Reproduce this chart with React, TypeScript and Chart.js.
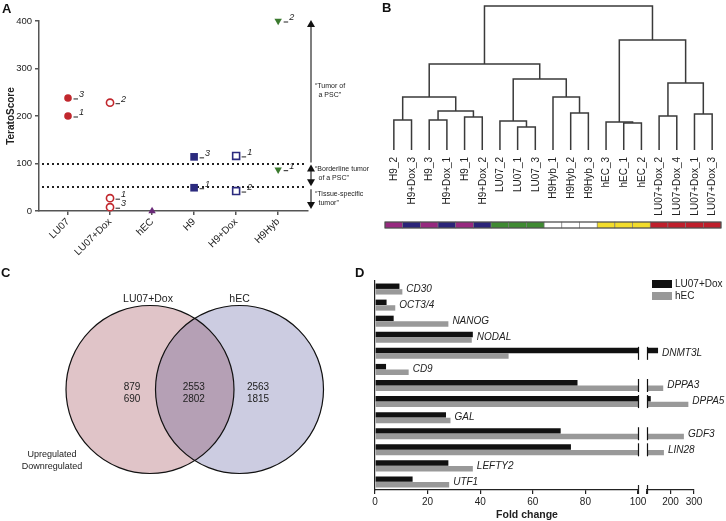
import React, { useEffect, useRef } from 'react';
import { Chart, registerables } from 'chart.js';

Chart.register(...registerables);

const FONT = "'Liberation Sans', Arial, Helvetica, sans-serif";
Chart.defaults.font.family = FONT;
Chart.defaults.color = '#222';
const TEXT = '#222';

// ---------------- Panel A data ----------------
const A_CELL_LINES = ['LU07', 'LU07+Dox', 'hEC', 'H9', 'H9+Dox', 'H9Hyb'];
const A_SCORES = [[200, 238], [228, 27, 8], [0], [49, 114], [116, 42], [87, 400]];
const A_REPLICATES = [['1', '3'], ['2', '1', '3'], [''], ['1', '3'], ['1', '2'], ['1', '2']];
const A_Y_TICKS = [0, 100, 200, 300, 400];
const A_THRESHOLDS = [100, 50];
const A_ZONE_TEXT = [
  ['\u201CTumor of', 'a PSC\u201D'],
  ['\u201CBorderline tumor', 'of a PSC\u201D'],
  ['\u201CTissue-specific', 'tumor\u201D'],
];
const A_ZONE_AT = [254, 79, 26];

// ---------------- Panel B data ----------------
const B_LEAVES = ['H9_2', 'H9+Dox_3', 'H9_3', 'H9+Dox_1', 'H9_1', 'H9+Dox_2', 'LU07_2', 'LU07_1', 'LU07_3',
  'H9Hyb_1', 'H9Hyb_2', 'H9Hyb_3', 'hEC_3', 'hEC_1', 'hEC_2', 'LU07+Dox_2', 'LU07+Dox_4', 'LU07+Dox_1', 'LU07+Dox_3'];
const B_LEAF_GROUPS = ['H9', 'H9+Dox', 'H9', 'H9+Dox', 'H9', 'H9+Dox', 'LU07', 'LU07', 'LU07',
  'H9Hyb', 'H9Hyb', 'H9Hyb', 'hEC', 'hEC', 'hEC', 'LU07+Dox', 'LU07+Dox', 'LU07+Dox', 'LU07+Dox'];
// linkage: [left node, right node, merge height]; nodes >= 19 are earlier merges
const B_MERGE_LEFT = [7, 13, 12, 6, 0, 2, 4, 15, 17, 10, 24, 23, 9, 26, 22, 30, 21, 34];
const B_MERGE_RIGHT = [8, 14, 20, 19, 1, 3, 5, 16, 18, 11, 25, 29, 28, 27, 31, 33, 32, 35];
const B_MERGE_HEIGHT = [23, 27, 28, 29, 30, 30, 33, 34, 36, 37, 39, 53, 53, 67, 71, 86, 110, 144];

// ---------------- Panel C data ----------------
const C_SETS = ['LU07+Dox', 'hEC'];
const C_UP = [879, 2553, 2563];
const C_DOWN = [690, 2802, 1815];
const C_KEY = ['Upregulated', 'Downregulated'];

// ---------------- Panel D data ----------------
const D_GENES = ['CD30', 'OCT3/4', 'NANOG', 'NODAL', 'DNMT3L', 'CD9', 'DPPA3', 'DPPA5', 'GAL', 'GDF3', 'LIN28', 'LEFTY2', 'UTF1'];
const D_SERIES = ['LU07+Dox', 'hEC'];
const D_LU07_DOX = [9.3, 4.4, 7.1, 37.2, 147, 4.2, 77, 116, 27, 70.6, 74.5, 27.9, 14.3];
const D_HEC = [10.4, 7.7, 27.9, 36.8, 50.8, 12.8, 169, 276, 28.7, 257, 172, 37.2, 28.2];
const D_BREAK = 100;
const D_LOW_STEP = 20;
const D_HIGH_MAX = 300;
const D_HIGH_STEP = 100;

// ---------------- styles ----------------
const A_MARKERS = [
  { style: 'circle', rot: 0, color: '#c1272d', filled: true, r: 3.8 },
  { style: 'circle', rot: 0, color: '#c1272d', filled: false, r: 3.6 },
  { style: 'triangle', rot: 0, color: '#6a2a78', filled: true, r: 4.3 },
  { style: 'rect', rot: 0, color: '#2b2a7e', filled: true, r: 5.4 },
  { style: 'rect', rot: 0, color: '#2b2a7e', filled: false, r: 4.9 },
  { style: 'triangle', rot: 180, color: '#3b7a2e', filled: true, r: 4.3 },
];
const B_GROUP_COLORS: Record<string, string> = {
  H9: '#97297f', 'H9+Dox': '#2b2478', LU07: '#3f8a32', H9Hyb: '#ffffff', hEC: '#f2dc2b', 'LU07+Dox': '#bf1f2c',
};
const D_COLORS = ['#111111', '#999999'];

const baseOptions = (extra: any) => ({
  responsive: false,
  animation: false,
  devicePixelRatio: 1,
  events: [],
  plugins: { legend: { display: false }, tooltip: { enabled: false } },
  ...extra,
});

function letter(ctx: CanvasRenderingContext2D, t: string, x: number, y: number) {
  ctx.save();
  ctx.font = `bold 13px ${FONT}`;
  ctx.fillStyle = '#111';
  ctx.textAlign = 'left';
  ctx.textBaseline = 'alphabetic';
  ctx.fillText(t, x, y);
  ctx.restore();
}

// ---------------- Panel A config ----------------
function makeA() {
  const plugin = {
    id: 'panelA',
    beforeDatasetsDraw(chart: any) {
      const { ctx, chartArea: ca, scales: { y } } = chart;
      ctx.save();
      ctx.strokeStyle = '#222';
      ctx.lineWidth = 2;
      ctx.setLineDash([2, 3]);
      A_THRESHOLDS.forEach((t) => {
        const py = Math.round(y.getPixelForValue(t));
        ctx.beginPath();
        ctx.moveTo(ca.left + 3, py);
        ctx.lineTo(ca.right - 2, py);
        ctx.stroke();
      });
      ctx.restore();
    },
    afterDatasetsDraw(chart: any) {
      const { ctx } = chart;
      ctx.save();
      ctx.fillStyle = TEXT;
      ctx.font = `italic 9px ${FONT}`;
      ctx.textAlign = 'left';
      ctx.textBaseline = 'alphabetic';
      chart.data.datasets.forEach((_: any, i: number) => {
        const meta = chart.getDatasetMeta(i);
        meta.data.forEach((pt: any, j: number) => {
          const lab = A_REPLICATES[i][j];
          if (!lab) return;
          const x = pt.x + 5.5;
          ctx.fillRect(x, pt.y + 0.5, 4.5, 1);
          ctx.fillText(lab, x + 5.5, pt.y - 1);
        });
      });
      ctx.restore();
    },
    afterDraw(chart: any) {
      const { ctx, chartArea: ca, scales: { y } } = chart;
      const ax = ca.right + 3;
      const yTop = y.getPixelForValue(A_Y_TICKS[A_Y_TICKS.length - 1]);
      const y100 = y.getPixelForValue(A_THRESHOLDS[0]);
      const y50 = y.getPixelForValue(A_THRESHOLDS[1]);
      const y0 = y.getPixelForValue(A_Y_TICKS[0]);
      ctx.save();
      ctx.strokeStyle = '#555';
      ctx.lineWidth = 1.5;
      const line = (a: number, b: number) => {
        ctx.beginPath();
        ctx.moveTo(ax, a);
        ctx.lineTo(ax, b);
        ctx.stroke();
      };
      ctx.fillStyle = '#111';
      const head = (tip: number, dir: number) => {
        ctx.beginPath();
        ctx.moveTo(ax, tip);
        ctx.lineTo(ax - 4, tip - dir * 7);
        ctx.lineTo(ax + 4, tip - dir * 7);
        ctx.closePath();
        ctx.fill();
      };
      line(yTop + 4, y100 - 1);
      head(yTop - 1, -1);
      line(y100 + 6, y50 - 6);
      head(y100 + 1, -1);
      head(y50 - 1, 1);
      line(y50 + 2, y0 - 6);
      head(y0 - 2, 1);

      ctx.font = `7px ${FONT}`;
      ctx.fillStyle = TEXT;
      ctx.textBaseline = 'middle';
      ctx.textAlign = 'left';
      A_ZONE_TEXT.forEach((lines, k) => {
        const cy = y.getPixelForValue(A_ZONE_AT[k]);
        ctx.fillText(lines[0], ax + 4, cy - 4.5);
        ctx.fillText(lines[1], ax + 7.5, cy + 4.5);
      });
      ctx.restore();
      letter(ctx, 'A', 2, 13);
    },
  };
  return {
    type: 'scatter',
    data: {
      datasets: A_CELL_LINES.map((name, i) => {
        const m = A_MARKERS[i];
        return {
          label: name,
          data: A_SCORES[i].map((v) => ({ x: i, y: v })),
          pointStyle: m.style,
          pointRotation: m.rot,
          pointRadius: m.r,
          pointBackgroundColor: m.filled ? m.color : '#ffffff',
          pointBorderColor: m.color,
          pointBorderWidth: m.filled ? 0 : 1.6,
          showLine: false,
          clip: false,
        };
      }),
    },
    options: baseOptions({
      layout: { padding: { left: 0, top: 21, right: 72, bottom: 0 } },
      scales: {
        x: {
          type: 'linear',
          min: -0.69,
          max: A_CELL_LINES.length - 0.29,
          afterBuildTicks: (s: any) => {
            s.ticks = A_CELL_LINES.map((_, i) => ({ value: i }));
          },
          afterFit: (s: any) => {
            s.height = 54;
          },
          ticks: {
            autoSkip: false,
            minRotation: 45,
            maxRotation: 45,
            padding: 1,
            font: { size: 10 },
            color: TEXT,
            callback: (v: any) => A_CELL_LINES[v] ?? '',
          },
          grid: { drawOnChartArea: false, tickLength: 4, color: '#555', lineWidth: 1.5 },
          border: { color: '#555', width: 1.5 },
        },
        y: {
          min: A_Y_TICKS[0],
          max: A_Y_TICKS[A_Y_TICKS.length - 1],
          afterBuildTicks: (s: any) => {
            s.ticks = A_Y_TICKS.map((v) => ({ value: v }));
          },
          afterFit: (s: any) => {
            s.width = 39;
          },
          ticks: { font: { size: 9.5 }, color: TEXT, padding: 3 },
          title: { display: true, text: 'TeratoScore', font: { size: 10, weight: 'bold' }, color: TEXT, padding: { top: 5, bottom: 0 } },
          grid: { drawOnChartArea: false, tickLength: 4, color: '#555', lineWidth: 1.5 },
          border: { color: '#555', width: 1.5 },
        },
      },
    }),
    plugins: [plugin],
  };
}

// ---------------- Panel B config ----------------
function makeB() {
  const nodeX: number[] = B_LEAVES.map((_, i) => i);
  const nodeH: number[] = B_LEAVES.map(() => 0);
  const segments: any[] = [];
  B_MERGE_HEIGHT.forEach((h, k) => {
    const a = B_MERGE_LEFT[k];
    const b = B_MERGE_RIGHT[k];
    segments.push([
      { x: nodeX[a], y: nodeH[a] },
      { x: nodeX[a], y: h },
      { x: nodeX[b], y: h },
      { x: nodeX[b], y: nodeH[b] },
    ]);
    nodeX.push((nodeX[a] + nodeX[b]) / 2);
    nodeH.push(h);
  });
  const plugin = {
    id: 'panelB',
    afterDraw(chart: any) {
      const { ctx, chartArea: ca, scales: { x } } = chart;
      ctx.save();
      ctx.font = `10px ${FONT}`;
      ctx.fillStyle = TEXT;
      ctx.textAlign = 'right';
      ctx.textBaseline = 'middle';
      B_LEAVES.forEach((lab, i) => {
        const px = x.getPixelForValue(i);
        ctx.save();
        ctx.translate(px + 0.5, ca.bottom + 7);
        ctx.rotate(-Math.PI / 2);
        ctx.fillText(lab, 0, 0);
        ctx.restore();
      });
      const top = ca.bottom + 72;
      const hgt = 6;
      B_LEAVES.forEach((_, i) => {
        const l = x.getPixelForValue(i - 0.5);
        const r = x.getPixelForValue(i + 0.5);
        ctx.fillStyle = B_GROUP_COLORS[B_LEAF_GROUPS[i]];
        ctx.fillRect(l, top, r - l, hgt);
        ctx.strokeStyle = '#777';
        ctx.lineWidth = 0.6;
        ctx.strokeRect(l, top, r - l, hgt);
      });
      ctx.strokeStyle = '#444';
      ctx.lineWidth = 1;
      ctx.strokeRect(x.getPixelForValue(-0.5), top, x.getPixelForValue(B_LEAVES.length - 0.5) - x.getPixelForValue(-0.5), hgt);
      ctx.restore();
      letter(ctx, 'B', 22, 12);
    },
  };
  return {
    type: 'scatter',
    data: {
      datasets: segments.map((seg) => ({
        data: seg,
        showLine: true,
        borderColor: '#3a3a3a',
        borderWidth: 1.5,
        pointRadius: 0,
        tension: 0,
        clip: false,
      })),
    },
    options: baseOptions({
      layout: { autoPadding: false, padding: { left: 25, right: 5, top: 6, bottom: 115 } },
      scales: {
        x: { display: false, type: 'linear', min: -0.5, max: B_LEAVES.length - 0.5 },
        y: { display: false, min: 0, max: B_MERGE_HEIGHT[B_MERGE_HEIGHT.length - 1] },
      },
    }),
    plugins: [plugin],
  };
}

// ---------------- Panel C config ----------------
function makeC(w: number, h: number) {
  const R = 84;
  const cy = 127.5;
  const cxs = [150, 239.5];
  const plugin = {
    id: 'panelC',
    afterDatasetsDraw(chart: any) {
      const { ctx } = chart;
      const els = [0, 1].map((i) => chart.getDatasetMeta(i).data[0]);
      const rad = (el: any) => el.options.radius;
      ctx.save();
      ctx.beginPath();
      ctx.arc(els[0].x, els[0].y, rad(els[0]), 0, Math.PI * 2);
      ctx.clip();
      ctx.beginPath();
      ctx.arc(els[1].x, els[1].y, rad(els[1]), 0, Math.PI * 2);
      ctx.fillStyle = '#b5a0b5';
      ctx.fill();
      ctx.restore();
      ctx.save();
      ctx.strokeStyle = '#111';
      ctx.lineWidth = 1.2;
      els.forEach((el) => {
        ctx.beginPath();
        ctx.arc(el.x, el.y, rad(el), 0, Math.PI * 2);
        ctx.stroke();
      });
      ctx.fillStyle = TEXT;
      ctx.textAlign = 'center';
      ctx.textBaseline = 'middle';
      ctx.font = `10.5px ${FONT}`;
      C_SETS.forEach((s, i) => {
        ctx.fillText(s, els[i].x - (i === 0 ? 2 : 0), els[i].y - rad(els[i]) - 6.5);
      });
      const mid = (els[0].x + els[1].x) / 2;
      const xs = [els[0].x - 18, mid - 1, els[1].x + 18.5];
      ctx.font = `10px ${FONT}`;
      xs.forEach((px, k) => {
        ctx.fillText(String(C_UP[k]), px, els[0].y - 1.8);
        ctx.fillText(String(C_DOWN[k]), px, els[0].y + 9.8);
      });
      ctx.font = `9px ${FONT}`;
      ctx.fillText(C_KEY[0], 52, 193);
      ctx.fillText(C_KEY[1], 52, 205);
      ctx.restore();
      letter(ctx, 'C', 1, 15);
    },
  };
  return {
    type: 'bubble',
    data: {
      datasets: C_SETS.map((s, i) => ({
        label: s,
        data: [{ x: cxs[i], y: cy, r: R }],
        backgroundColor: i === 0 ? '#e0c4c8' : '#cccce1',
        borderWidth: 0,
        clip: false,
      })),
    },
    options: baseOptions({
      layout: { autoPadding: false, padding: 0 },
      scales: {
        x: { display: false, type: 'linear', min: 0, max: w },
        y: { display: false, type: 'linear', min: 0, max: h, reverse: true },
      },
    }),
    plugins: [plugin],
  };
}

// ---------------- Panel D config ----------------
function makeD(high: boolean) {
  const series = [D_LU07_DOX, D_HEC];
  const plugin = {
    id: high ? 'panelDHigh' : 'panelDLow',
    afterDatasetsDraw(chart: any) {
      const { ctx, chartArea: ca, scales: { x, y } } = chart;
      ctx.save();
      ctx.font = `italic 10px ${FONT}`;
      ctx.fillStyle = TEXT;
      ctx.textAlign = 'left';
      ctx.textBaseline = 'middle';
      ctx.strokeStyle = '#111';
      ctx.lineWidth = 1.2;
      const bx = Math.round(x.getPixelForValue(D_BREAK)) + 0.5;
      D_GENES.forEach((g, i) => {
        const m = Math.max(D_LU07_DOX[i], D_HEC[i]);
        const py = y.getPixelForValue(i);
        if (m > D_BREAK) {
          ctx.beginPath();
          ctx.moveTo(bx, py - 6.5);
          ctx.lineTo(bx, py + 6.5);
          ctx.stroke();
          if (high) ctx.fillText(g, x.getPixelForValue(m) + 4, py);
        } else if (!high) {
          ctx.fillText(g, x.getPixelForValue(m) + 4, py);
        }
      });
      ctx.strokeStyle = '#222';
      ctx.beginPath();
      ctx.moveTo(bx, ca.bottom - 5);
      ctx.lineTo(bx, ca.bottom + 4);
      ctx.stroke();
      ctx.restore();
    },
    afterDraw(chart: any) {
      const { ctx, chartArea: ca } = chart;
      ctx.save();
      if (!high) {
        ctx.font = `bold 10.5px ${FONT}`;
        ctx.fillStyle = TEXT;
        ctx.textAlign = 'center';
        ctx.textBaseline = 'middle';
        ctx.fillText('Fold change', ca.left + 152, ca.bottom + 25);
        ctx.restore();
        letter(ctx, 'D', 10, 15);
        return;
      }
      ctx.font = `10px ${FONT}`;
      ctx.textAlign = 'left';
      ctx.textBaseline = 'middle';
      chart.data.datasets.forEach((ds: any, k: number) => {
        ctx.fillStyle = ds.backgroundColor;
        ctx.fillRect(ca.left + 5, ca.top - 1 + k * 12, 20, 8);
        ctx.fillStyle = TEXT;
        ctx.fillText(ds.label, ca.left + 28, ca.top + 3 + k * 12);
      });
      ctx.restore();
    },
  };
  return {
    type: 'bar',
    data: {
      labels: D_GENES,
      datasets: D_SERIES.map((s, k) => ({
        label: s,
        data: series[k].map((v) => (high ? (v > D_BREAK ? v : null) : v)),
        backgroundColor: D_COLORS[k],
        borderWidth: 0,
        categoryPercentage: 0.7,
        barPercentage: 0.96,
        clip: 0,
      })),
    },
    options: baseOptions({
      indexAxis: 'y',
      layout: { padding: high ? { left: 7, right: 32, top: 19, bottom: 0 } : { left: 30, right: 12, top: 19, bottom: 0 } },
      scales: {
        y: {
          display: !high,
          afterFit: (s: any) => {
            s.width = 0;
          },
          ticks: { display: false },
          grid: { display: false, drawTicks: false },
          border: { display: true, color: '#222', width: 1.2 },
        },
        x: {
          type: 'linear',
          min: high ? D_BREAK : 0,
          max: high ? D_HIGH_MAX : D_BREAK,
          afterFit: (s: any) => {
            s.height = 31;
          },
          ticks: {
            autoSkip: false,
            stepSize: high ? D_HIGH_STEP : D_LOW_STEP,
            maxRotation: 0,
            font: { size: 10 },
            color: TEXT,
            padding: 2,
            callback: (v: any) => (high && v === D_BREAK ? '' : String(v)),
          },
          grid: { drawOnChartArea: false, tickLength: 4, color: '#222', lineWidth: 1.2 },
          border: { color: '#222', width: 1.2 },
        },
      },
    }),
    plugins: [plugin],
  };
}

function ChartBox({ x, y, w, h, make }: { x: number; y: number; w: number; h: number; make: () => any }) {
  const ref = useRef<HTMLCanvasElement>(null);
  useEffect(() => {
    const chart = new Chart(ref.current as HTMLCanvasElement, make());
    return () => chart.destroy();
  }, []);
  return (
    <canvas
      ref={ref}
      width={w}
      height={h}
      style={{ position: 'absolute', left: x, top: y, width: w, height: h }}
    />
  );
}

export default function App() {
  return (
    <div
      style={{
        position: 'fixed',
        left: 0,
        top: 0,
        width: 726,
        height: 521,
        background: '#ffffff',
        overflow: 'hidden',
      }}
    >
      <ChartBox x={0} y={0} w={380} h={265} make={makeA} />
      <ChartBox x={360} y={0} w={366} h={265} make={makeB} />
      <ChartBox x={0} y={262} w={345} h={259} make={() => makeC(345, 259)} />
      <ChartBox x={345} y={262} w={305} h={259} make={() => makeD(false)} />
      <ChartBox x={640} y={262} w={86} h={259} make={() => makeD(true)} />
    </div>
  );
}
